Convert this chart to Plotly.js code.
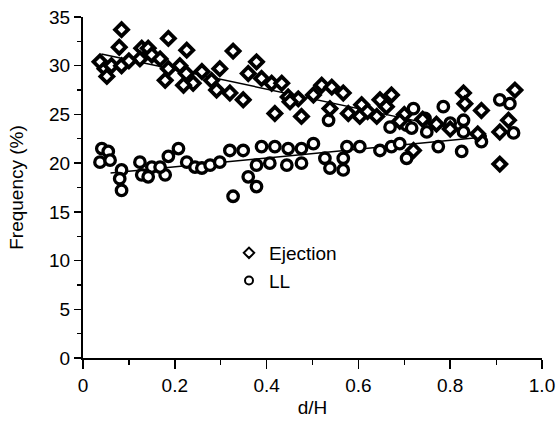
<!DOCTYPE html>
<html>
<head>
<meta charset="utf-8">
<script src="https://cdn.plot.ly/plotly-3.0.1.min.js"></script>
<style>html,body{margin:0;padding:0;background:#fff;}#chart{width:558px;height:424px;}</style>
</head>
<body>
<div id="chart"></div>
<script>
// Ejection (diamonds)
const ejX = [0.084,0.186,0.079,0.226,0.037,0.048,0.052,0.062,0.084,0.128,0.142,0.150,0.124,0.168,0.186,0.179,0.211,0.225,0.240,0.219,
             0.327,0.259,0.298,0.280,0.291,0.320,0.349,0.378,0.360,0.389,0.411,0.433,0.418,0.447,0.469,0.476,0.451,
             0.502,0.520,0.542,0.567,0.538,0.578,0.607,0.603,0.647,0.672,0.661,0.620,0.640,0.720,
             0.700,0.740,0.770,0.800,0.690,0.860,0.829,0.832,0.868,0.941,0.927,0.908,0.908,0.100];
const ejY = [33.7,32.8,31.9,31.6,30.4,29.7,28.9,30.0,30.0,31.8,31.8,31.1,30.7,30.7,29.7,28.5,30.0,29.2,28.2,28.0,
             31.5,29.4,29.7,28.5,27.5,27.2,26.5,30.4,29.2,28.7,28.2,28.2,25.1,26.8,26.6,24.8,26.3,
             27.0,28.0,27.8,27.2,25.6,25.1,26.0,24.8,26.5,27.0,25.8,25.3,24.8,21.3,
             25.0,24.5,24.0,23.5,24.3,23.0,27.2,26.1,25.4,27.5,24.4,23.2,19.9,30.5];
// LL (circles)
const llX = [0.041,0.055,0.037,0.059,0.084,0.080,0.084,0.124,0.128,0.150,0.142,0.179,0.168,0.186,0.208,0.226,0.244,
             0.259,0.277,0.298,0.320,0.349,0.327,0.378,0.360,0.378,0.389,0.418,0.407,0.447,0.444,0.476,0.476,
             0.502,0.527,0.538,0.567,0.567,0.575,0.603,0.647,0.672,0.705,0.669,0.705,0.535,
             0.720,0.745,0.785,0.800,0.829,0.749,0.716,0.774,0.825,0.868,0.908,0.930,0.938,0.829,0.690];
const llY = [21.5,21.2,20.1,20.3,19.3,18.4,17.2,20.1,18.8,19.6,18.6,18.8,19.6,20.7,21.5,20.1,19.6,
             19.5,19.8,20.1,21.3,21.3,16.6,19.8,18.6,17.6,21.7,21.7,20.0,21.5,19.8,21.5,20.0,
             22.0,20.5,19.5,20.5,19.3,21.7,21.7,21.3,21.7,20.5,23.7,23.9,24.4,
             25.6,24.6,25.8,24.1,24.4,23.2,23.6,21.7,21.2,22.2,26.5,26.1,23.1,23.2,22.0];
// fit lines
const ejFitX = [0.04, 0.88];
const ejFitY = [31.2, 22.8];
const llFitX = [0.06, 0.88];
const llFitY = [19.0, 22.7];
const xTickVals = [0, 0.2, 0.4, 0.6, 0.8, 1.0];
const xTickText = ['0', '0.2', '0.4', '0.6', '0.8', '1.0'];
const yTickVals = [0, 5, 10, 15, 20, 25, 30, 35];

const FONT = 'Liberation Sans, Arial, Helvetica, sans-serif';
const FS = 19;
const traces = [
  {x: ejFitX, y: ejFitY, mode: 'lines', line: {color: '#000', width: 1.5}, showlegend: false, hoverinfo: 'skip'},
  {x: llFitX, y: llFitY, mode: 'lines', line: {color: '#000', width: 1.5}, showlegend: false, hoverinfo: 'skip'},
  {x: llX, y: llY, mode: 'markers', showlegend: false,
   marker: {symbol: 'circle', size: 10.5, color: '#fff', line: {color: '#000', width: 3.3}}},
  {x: ejX, y: ejY, mode: 'markers', showlegend: false,
   marker: {symbol: 'diamond', size: 10, color: '#fff', line: {color: '#000', width: 3.8}}},
  {x: [null], y: [null], mode: 'markers', name: 'Ejection',
   marker: {symbol: 'diamond', size: 8, color: '#fff', line: {color: '#000', width: 2}}},
  {x: [null], y: [null], mode: 'markers', name: 'LL',
   marker: {symbol: 'circle', size: 8, color: '#fff', line: {color: '#000', width: 2}}}
];
const layout = {
  width: 558, height: 424,
  margin: {l: 83, r: 16, t: 17, b: 66},
  paper_bgcolor: '#fff', plot_bgcolor: '#fff',
  font: {family: FONT, size: FS, color: '#000'},
  showlegend: true,
  legend: {x: (229 - 83) / 459, y: (358 - 234) / 341, xanchor: 'left', yanchor: 'top',
           bgcolor: 'rgba(0,0,0,0)', borderwidth: 0, font: {family: FONT, size: FS, color: '#000'},
           itemwidth: 30, tracegroupgap: 0},
  xaxis: {range: [0, 1], showline: true, linecolor: '#000', linewidth: 2, mirror: false,
          showgrid: false, zeroline: false, ticks: 'outside', ticklen: 9, tickwidth: 1.5, tickcolor: '#000',
          tickmode: 'array', tickvals: xTickVals, ticktext: xTickText,
          minor: {tickmode: 'linear', dtick: 0.1, ticks: 'outside', ticklen: 5, tickwidth: 1.2, tickcolor: '#000', showgrid: false},
          tickfont: {size: FS}, title: {text: 'd/H', font: {size: FS}, standoff: 6}},
  yaxis: {range: [0, 35], showline: true, linecolor: '#000', linewidth: 2, mirror: false,
          showgrid: false, zeroline: false, ticks: 'outside', ticklen: 7, tickwidth: 1.5, tickcolor: '#000',
          tickmode: 'array', tickvals: yTickVals,
          minor: {tickmode: 'linear', dtick: 2.5, ticks: 'outside', ticklen: 4, tickwidth: 1.2, tickcolor: '#000', showgrid: false},
          tickfont: {size: FS}, title: {text: 'Frequency (%)', font: {size: FS}, standoff: 20}}
};
Plotly.newPlot('chart', traces, layout, {displayModeBar: false, staticPlot: true});
</script>
</body>
</html>
